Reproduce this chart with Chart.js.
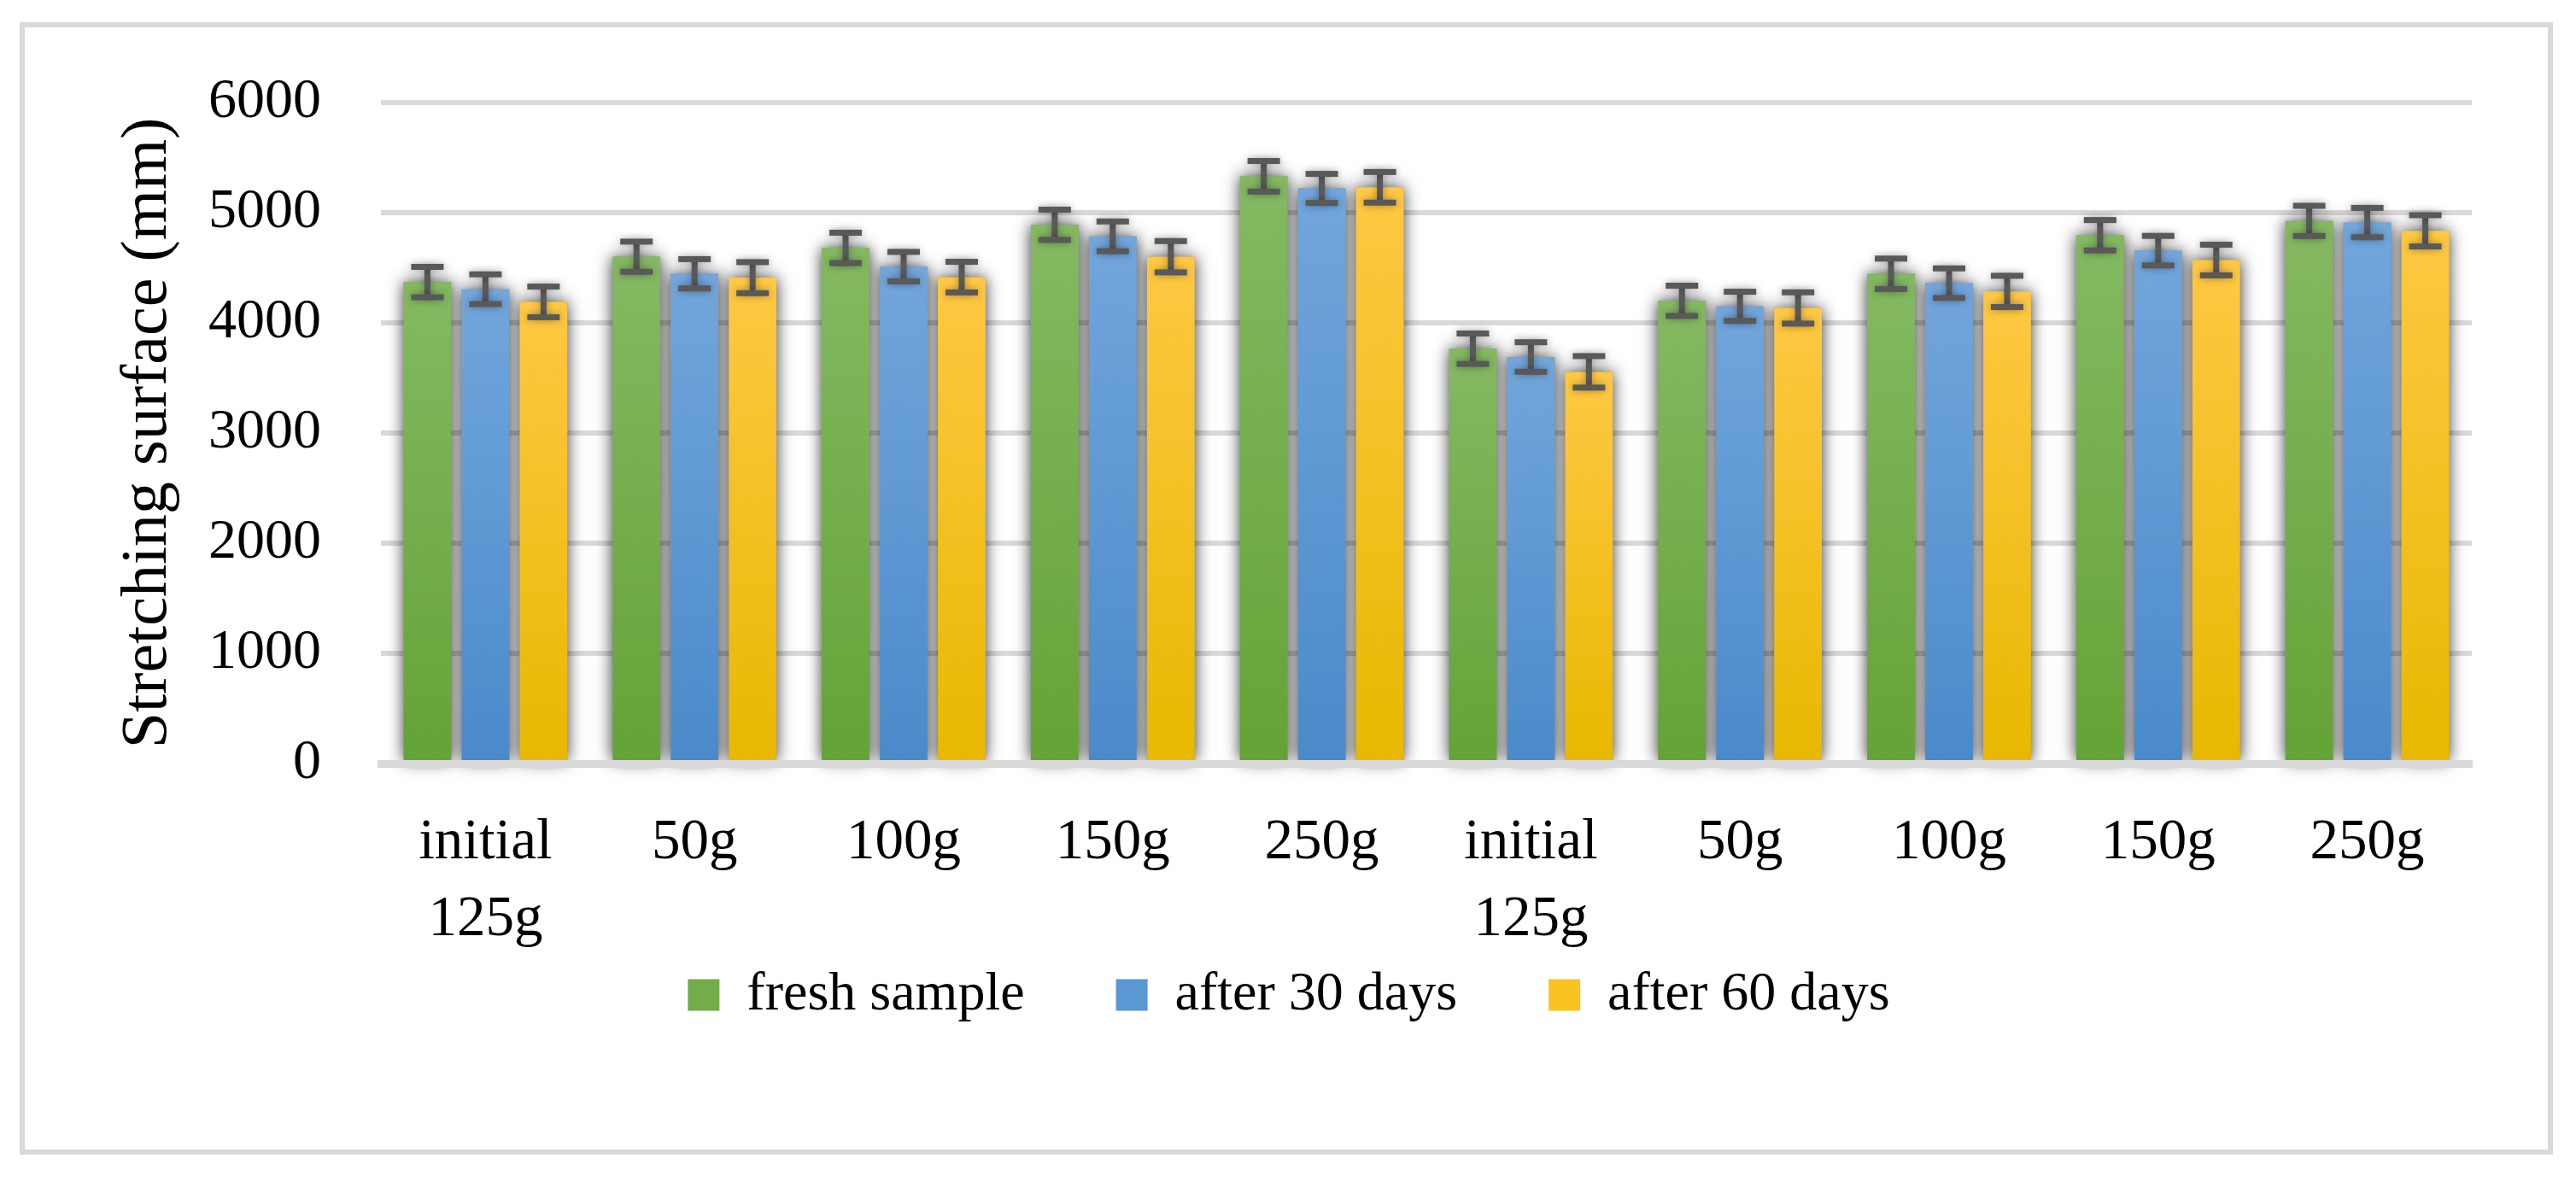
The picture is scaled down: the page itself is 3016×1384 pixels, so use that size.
<!DOCTYPE html>
<html>
<head>
<meta charset="utf-8">
<script src="https://cdn.jsdelivr.net/npm/chart.js@4/dist/chart.umd.min.js"></script>
<style>
  html, body { margin: 0; padding: 0; background: #ffffff; }
  canvas { display: block; }
</style>
</head>
<body>
<canvas id="c" width="3016" height="1384"></canvas>
<script>
// ---- data ----
const categories = [['initial', '125g'], '50g', '100g', '150g', '250g', ['initial', '125g'], '50g', '100g', '150g', '250g'];
const seriesNames = ['fresh sample', 'after 30 days', 'after 60 days'];
const freshSample = [4370, 4600, 4680, 4890, 5330, 3765, 4200, 4445, 4795, 4925];
const after30Days = [4305, 4445, 4510, 4785, 5220, 3690, 4150, 4360, 4655, 4910];
const after60Days = [4190, 4410, 4415, 4600, 5230, 3555, 4135, 4285, 4570, 4835];
const freshErr = [138, 137, 138, 137, 139, 138, 137, 138, 138, 137];
const after30Err = [135, 133, 134, 135, 132, 134, 132, 134, 134, 133];
const after60Err = [139, 141, 139, 142, 139, 143, 142, 142, 139, 142];
const yTicks = [0, 1000, 2000, 3000, 4000, 5000, 6000];

// ---- styling ----
const FONT = "'Liberation Serif', 'Times New Roman', serif";
const palette = [
  { top: '#84b962', bottom: '#64a336', flat: '#72ad4a' },
  { top: '#72a6dc', bottom: '#4a8aca', flat: '#5a97d3' },
  { top: '#ffc844', bottom: '#e8b800', flat: '#f8c320' }
];

function gradientFill(p) {
  return (c) => {
    const chart = c.chart;
    if (c.type !== 'data' || !chart.chartArea) return p.flat;
    const y = chart.scales.y;
    const y0 = y.getPixelForValue(c.raw);
    const y1 = y.getPixelForValue(0);
    if (!isFinite(y0) || !isFinite(y1) || y0 === y1) return p.flat;
    const g = chart.ctx.createLinearGradient(0, y0, 0, y1);
    g.addColorStop(0, p.top);
    g.addColorStop(1, p.bottom);
    return g;
  };
}

const errorSets = [freshErr, after30Err, after60Err];
const seriesValues = [freshSample, after30Days, after60Days];

const framePlugin = {
  id: 'frame',
  beforeDraw(chart) {
    const ctx = chart.ctx;
    ctx.save();
    ctx.fillStyle = '#ffffff';
    ctx.fillRect(0, 0, chart.width, chart.height);
    ctx.strokeStyle = '#d9d9d9';
    ctx.lineWidth = 6;
    ctx.strokeRect(26, 29, 2960, 1320);
    ctx.restore();
  }
};

const shadowPlugin = {
  id: 'barShadow',
  beforeDatasetsDraw(chart) {
    const ctx = chart.ctx;
    ctx.save();
    ctx.shadowColor = 'rgba(0,0,0,0.8)';
    ctx.shadowBlur = 18;
    ctx.shadowOffsetX = 0;
    ctx.shadowOffsetY = 0;
    ctx.fillStyle = '#9a9a9a';
    chart.data.datasets.forEach((ds, di) => {
      const meta = chart.getDatasetMeta(di);
      meta.data.forEach((bar) => {
        const left = bar.x - bar.width / 2;
        const top = Math.min(bar.y, bar.base);
        const h = Math.abs(bar.base - bar.y);
        ctx.fillRect(left, top, bar.width, h);
      });
    });
    ctx.restore();
  }
};

const errorBarPlugin = {
  id: 'errorBars',
  afterDatasetsDraw(chart) {
    const ctx = chart.ctx;
    const y = chart.scales.y;
    ctx.save();
    ctx.fillStyle = '#595959';
    ctx.shadowColor = 'rgba(0,0,0,0.35)';
    ctx.shadowBlur = 10;
    const stem = 7, capW = 38, capH = 7;
    chart.data.datasets.forEach((ds, di) => {
      const meta = chart.getDatasetMeta(di);
      const errs = errorSets[di];
      meta.data.forEach((bar, i) => {
        const v = ds.data[i];
        const e = errs[i];
        const yt = y.getPixelForValue(v + e);
        const yb = y.getPixelForValue(v - e);
        ctx.fillRect(bar.x - stem / 2, yt, stem, yb - yt);
        ctx.fillRect(bar.x - capW / 2, yt - capH / 2, capW, capH);
        ctx.fillRect(bar.x - capW / 2, yb - capH / 2, capW, capH);
      });
    });
    ctx.restore();
  }
};

new Chart(document.getElementById('c'), {
  type: 'bar',
  data: {
    labels: categories,
    datasets: seriesNames.map((name, i) => ({
      label: name,
      data: seriesValues[i],
      backgroundColor: gradientFill(palette[i]),
      borderWidth: 0,
      categoryPercentage: 0.833,
      barPercentage: 0.82
    }))
  },
  options: {
    responsive: false,
    animation: false,
    devicePixelRatio: 1,
    layout: { padding: { left: 124, right: 122, top: 120, bottom: 177 } },
    plugins: {
      title: { display: false },
      tooltip: { enabled: false },
      legend: {
        position: 'bottom',
        labels: {
          font: { family: FONT, size: 64 },
          color: '#000000',
          boxWidth: 37,
          boxHeight: 37,
          padding: 107,
          generateLabels(chart) {
            return chart.data.datasets.map((ds, i) => ({
              text: ds.label,
              fillStyle: palette[i].flat,
              strokeStyle: palette[i].flat,
              lineWidth: 0,
              hidden: false,
              datasetIndex: i
            }));
          }
        }
      }
    },
    scales: {
      x: {
        grid: { display: false, drawTicks: false },
        border: { display: true, color: '#d9d9d9', width: 9, z: 1 },
        ticks: {
          font: { family: FONT, size: 67, lineHeight: 1.34 },
          color: '#000000',
          padding: 49,
          maxRotation: 0,
          minRotation: 0,
          autoSkip: false
        },
        afterFit(scale) {
          scale.height = 132;
          // let the second line of the two-line labels extend below the (compact) axis box
          scale._computeLabelArea = () => undefined;
        }
      },
      y: {
        min: 0,
        max: 6000,
        afterBuildTicks(scale) { scale.ticks = yTicks.map(v => ({ value: v })); },
        grid: { color: '#d9d9d9', lineWidth: 6, drawTicks: false },
        border: { display: false },
        ticks: {
          font: { family: FONT, size: 66 },
          color: '#000000',
          padding: 70,
          callback: (v) => String(v)
        },
        title: {
          display: true,
          text: 'Stretching surface (mm)',
          font: { family: FONT, size: 76 },
          color: '#000000',
          padding: { top: 4, bottom: 4 }
        },
        afterFit(scale) { scale.width = 322; }
      }
    }
  },
  plugins: [framePlugin, shadowPlugin, errorBarPlugin]
});
</script>
</body>
</html>
